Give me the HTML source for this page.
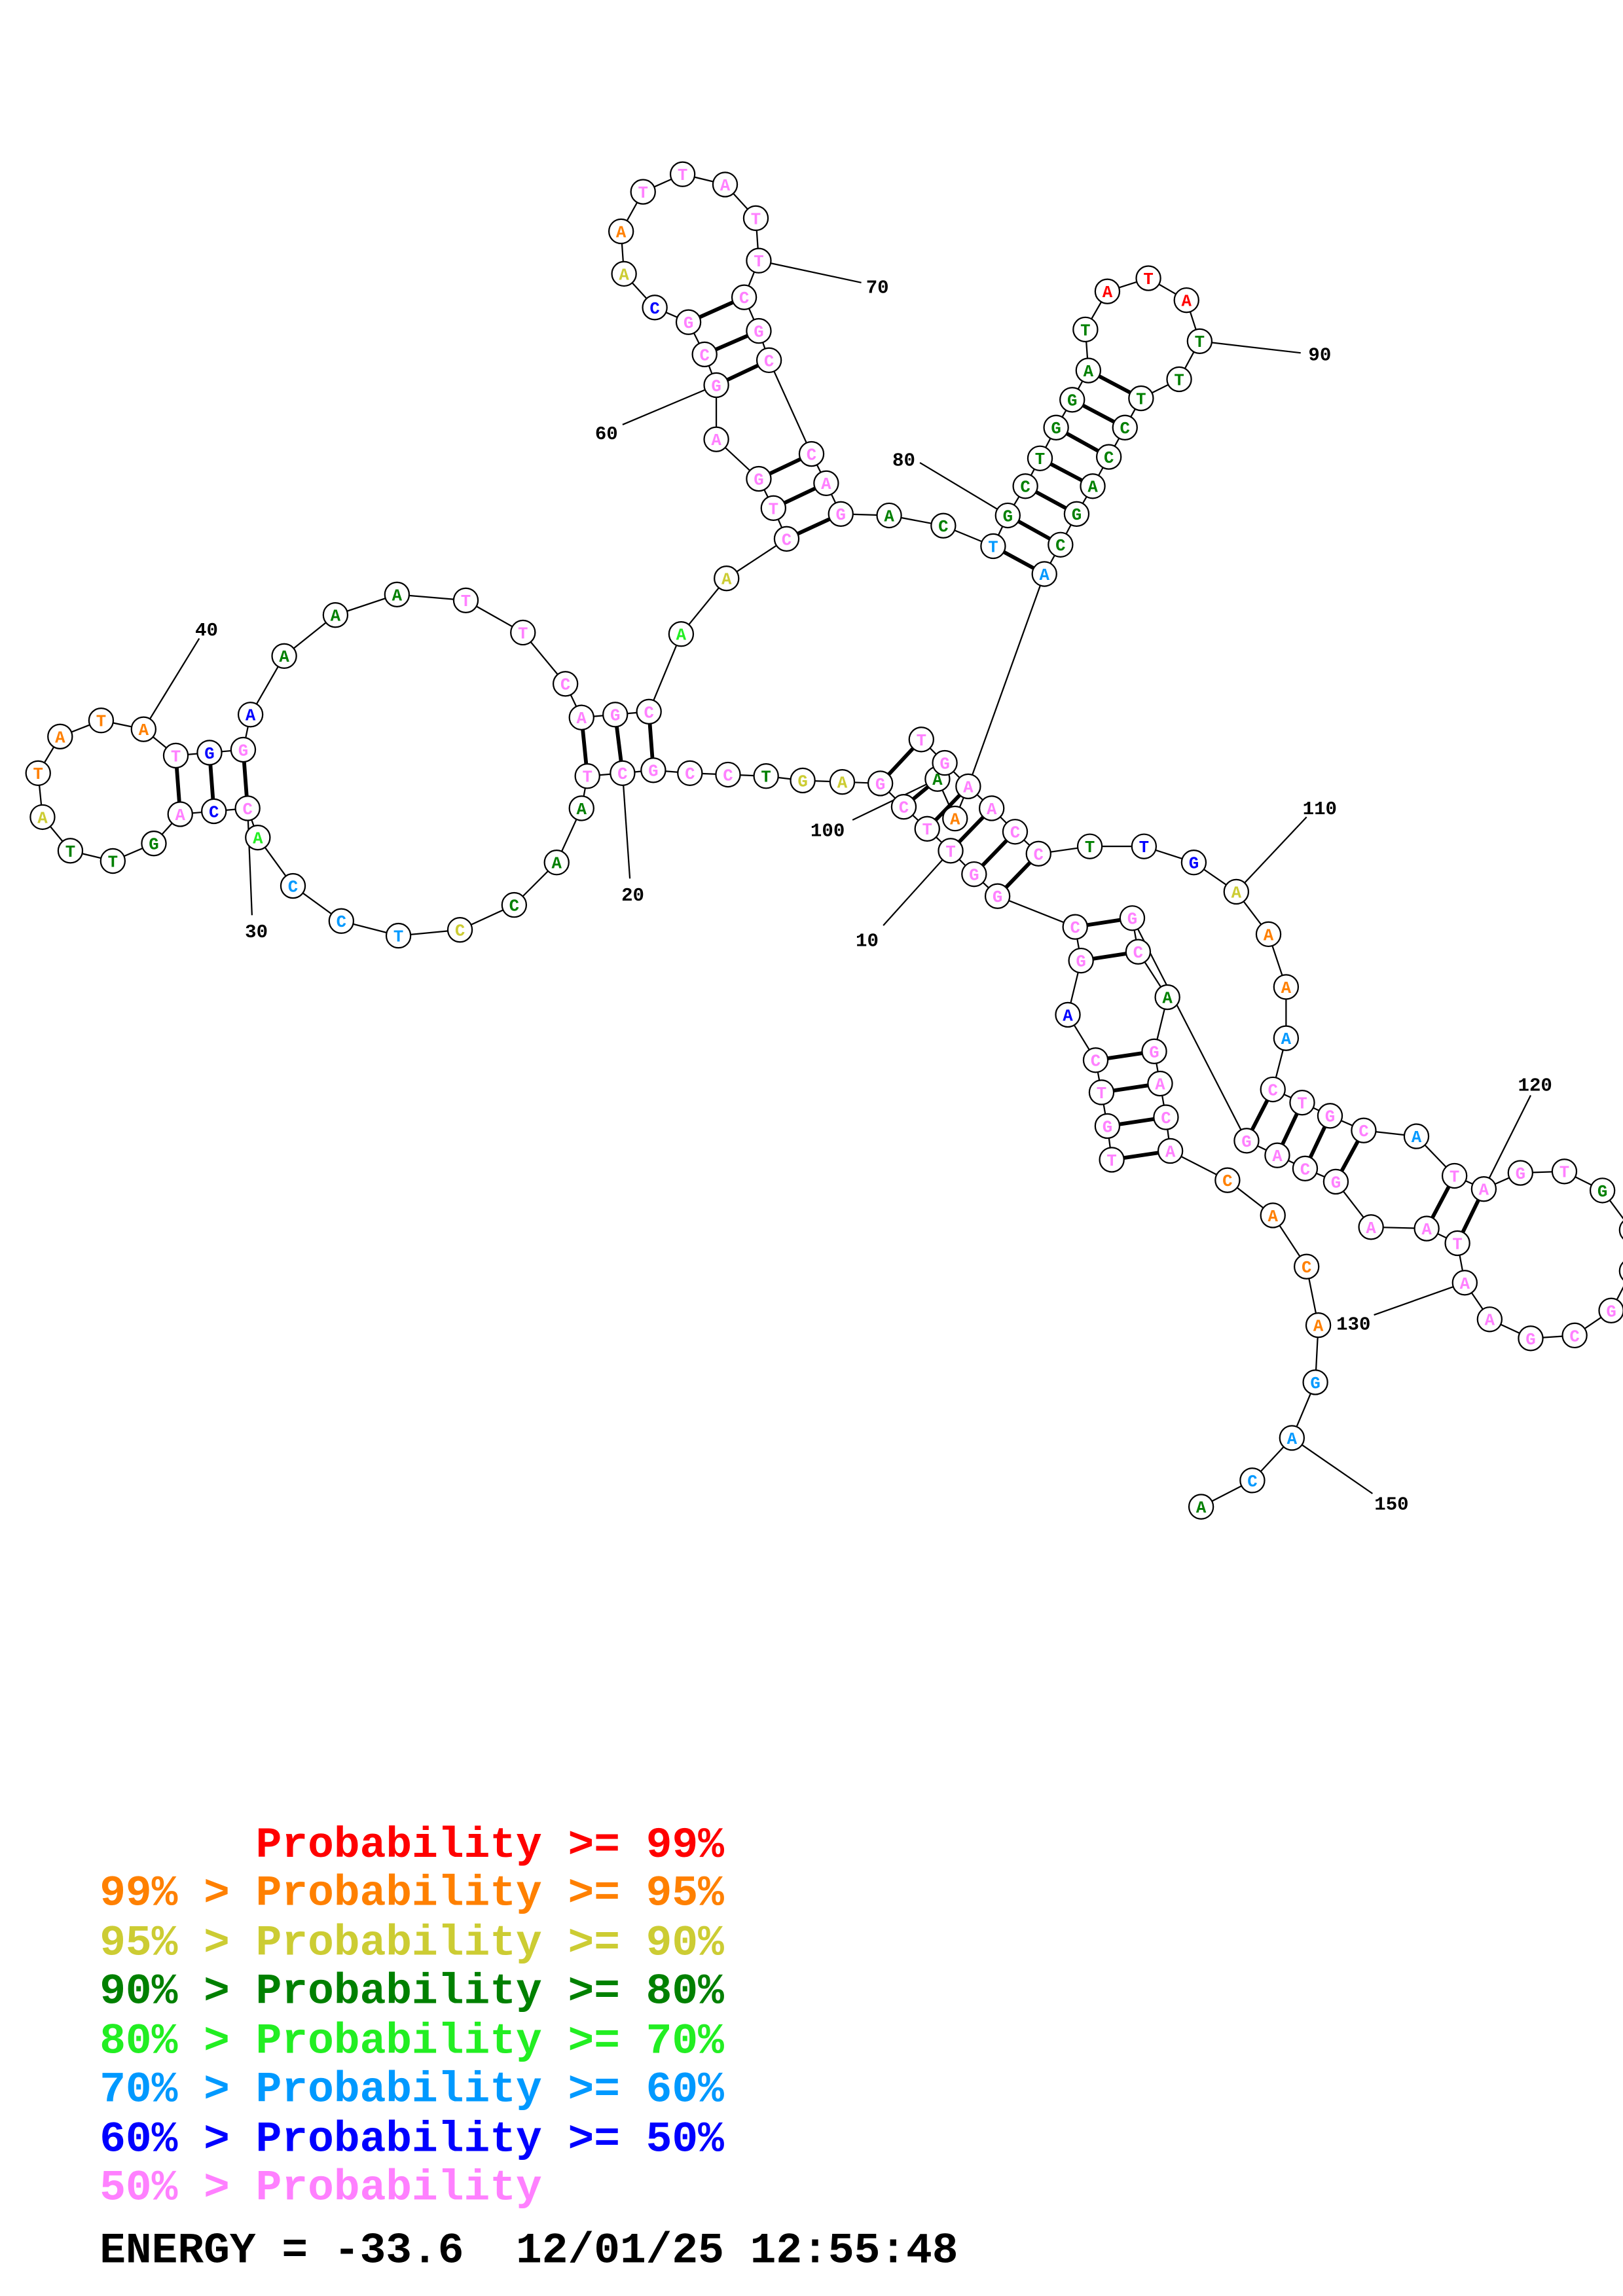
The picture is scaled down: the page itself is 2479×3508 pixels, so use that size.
<!DOCTYPE html>
<html><head><meta charset="utf-8"><style>
html,body{margin:0;padding:0;background:#fff}
svg{display:block}
.n circle{fill:#fff;stroke:#000;stroke-width:1}
.n text{font-family:"Liberation Mono",monospace;font-weight:bold;font-size:11.5px;text-anchor:middle}
.p{fill:#ff80ff}.o{fill:#ff8000}.y{fill:#cccc33}.g{fill:#008000}.G{fill:#22ee22}.b{fill:#0099ff}.B{fill:#0000ff}.r{fill:#ff0000}
.lab{font-family:"Liberation Mono",monospace;font-weight:bold;font-size:13px;text-anchor:middle;fill:#000}
.leg{font-family:"Liberation Mono",monospace;font-weight:bold;font-size:29.6px}
</style></head><body>
<svg width="2479" height="3508" viewBox="0 0 1108 1568" xmlns="http://www.w3.org/2000/svg">
<rect width="1108" height="1568" fill="#fff"/>
<g fill="none" stroke="#000" stroke-width="1">
<polyline points="759,792 756,769 752,746 748,724 729,693 738,656 734,633 681,612 665,597 649,581 633,566 617,551 601,535 575,534 548,533 523,530 497,529 471,528 446,526 425,528 401,530 397,552 380,589 351,618 314,635 272,639 233,629 200,605 176,572 169,552 146,554 123,556 105,576 77,588 48,581 29,558 26,528 41,503 69,492 98,498 120,516 143,514 166,512 171,488 194,448 229,420 271,406 318,410 357,432 386,467 397,490 420,488 443,486 465,433 496,395 537,368 528,347 518,327 489,300 489,263 481,242 470,220 447,210 426,187 424,158 439,131 466,119 495,126 516,149 518,178 508,203 518,226 525,246 554,310 564,330 574,351 607,352 644,359 678,373 688,352 700,332 710,313 721,292 732,273 743,253 741,225 756,199 784,190 810,205 819,233 805,259 779,272 768,292 757,312 746,332 735,351 724,372 713,392 661,537 652,559 640,532 645,521 629,505"/>
<polyline points="645,521 661,537 677,552 693,568 709,583 744,578 781,578 815,589 844,609 866,638 878,674 878,709 869,744 889,753 908,762 931,772 967,776 993,803 1013,812 1038,801 1068,800 1094,813 1114,840 1114,868 1100,895 1075,912 1045,914 1017,901 1000,876 995,849 974,839 936,838 912,807 891,798 872,789 851,779 773,627 777,650 797,681 788,718 792,740 796,763 799,786 838,806 869,830 892,865 900,905 898,944 882,982 855,1011 820,1029"/>
<line x1="603" y1="632" x2="649" y2="581"/>
<line x1="430" y1="600" x2="425" y2="528"/>
<line x1="172" y1="625" x2="169" y2="552"/>
<line x1="136" y1="436" x2="98" y2="498"/>
<line x1="425" y1="290" x2="489" y2="263"/>
<line x1="518" y1="178" x2="588" y2="193"/>
<line x1="628" y1="316" x2="688" y2="352"/>
<line x1="819" y1="233" x2="888" y2="241"/>
<line x1="582" y1="560" x2="640" y2="532"/>
<line x1="844" y1="609" x2="892" y2="558"/>
<line x1="1045" y1="748" x2="1013" y2="812"/>
<line x1="938" y1="898" x2="1000" y2="876"/>
<line x1="882" y1="982" x2="937" y2="1020"/>
</g>
<g stroke="#000" stroke-width="2.6">
<line x1="120" y1="516" x2="123" y2="556"/><line x1="143" y1="514" x2="146" y2="554"/><line x1="166" y1="512" x2="169" y2="552"/>
<line x1="397" y1="490" x2="401" y2="530"/><line x1="420" y1="488" x2="425" y2="528"/><line x1="443" y1="486" x2="446" y2="526"/>
<line x1="537" y1="368" x2="574" y2="351"/><line x1="528" y1="347" x2="564" y2="330"/><line x1="518" y1="327" x2="554" y2="310"/>
<line x1="489" y1="263" x2="525" y2="246"/><line x1="481" y1="242" x2="518" y2="226"/><line x1="470" y1="220" x2="508" y2="203"/>
<line x1="678" y1="373" x2="713" y2="392"/><line x1="688" y1="352" x2="724" y2="372"/><line x1="700" y1="332" x2="735" y2="351"/><line x1="710" y1="313" x2="746" y2="332"/><line x1="721" y1="292" x2="757" y2="312"/><line x1="732" y1="273" x2="768" y2="292"/><line x1="743" y1="253" x2="779" y2="272"/>
<line x1="601" y1="535" x2="629" y2="505"/><line x1="617" y1="551" x2="640" y2="532"/><line x1="633" y1="566" x2="661" y2="537"/><line x1="649" y1="581" x2="677" y2="552"/><line x1="665" y1="597" x2="693" y2="568"/><line x1="681" y1="612" x2="709" y2="583"/>
<line x1="734" y1="633" x2="773" y2="627"/><line x1="738" y1="656" x2="777" y2="650"/><line x1="748" y1="724" x2="788" y2="718"/><line x1="752" y1="746" x2="792" y2="740"/><line x1="756" y1="769" x2="796" y2="763"/><line x1="759" y1="792" x2="799" y2="786"/>
<line x1="869" y1="744" x2="851" y2="779"/><line x1="889" y1="753" x2="872" y2="789"/><line x1="908" y1="762" x2="891" y2="798"/><line x1="931" y1="772" x2="912" y2="807"/>
<line x1="993" y1="803" x2="974" y2="839"/><line x1="1013" y1="812" x2="995" y2="849"/>
</g>
<g class="n">
<circle cx="759" cy="792" r="8.3"/><text x="759" y="796" class="p">T</text>
<circle cx="756" cy="769" r="8.3"/><text x="756" y="773" class="p">G</text>
<circle cx="752" cy="746" r="8.3"/><text x="752" y="750" class="p">T</text>
<circle cx="748" cy="724" r="8.3"/><text x="748" y="728" class="p">C</text>
<circle cx="729" cy="693" r="8.3"/><text x="729" y="697" class="B">A</text>
<circle cx="738" cy="656" r="8.3"/><text x="738" y="660" class="p">G</text>
<circle cx="734" cy="633" r="8.3"/><text x="734" y="637" class="p">C</text>
<circle cx="681" cy="612" r="8.3"/><text x="681" y="616" class="p">G</text>
<circle cx="665" cy="597" r="8.3"/><text x="665" y="601" class="p">G</text>
<circle cx="649" cy="581" r="8.3"/><text x="649" y="585" class="p">T</text>
<circle cx="633" cy="566" r="8.3"/><text x="633" y="570" class="p">T</text>
<circle cx="617" cy="551" r="8.3"/><text x="617" y="555" class="p">C</text>
<circle cx="601" cy="535" r="8.3"/><text x="601" y="539" class="p">G</text>
<circle cx="575" cy="534" r="8.3"/><text x="575" y="538" class="y">A</text>
<circle cx="548" cy="533" r="8.3"/><text x="548" y="537" class="y">G</text>
<circle cx="523" cy="530" r="8.3"/><text x="523" y="534" class="g">T</text>
<circle cx="497" cy="529" r="8.3"/><text x="497" y="533" class="p">C</text>
<circle cx="471" cy="528" r="8.3"/><text x="471" y="532" class="p">C</text>
<circle cx="446" cy="526" r="8.3"/><text x="446" y="530" class="p">G</text>
<circle cx="425" cy="528" r="8.3"/><text x="425" y="532" class="p">C</text>
<circle cx="401" cy="530" r="8.3"/><text x="401" y="534" class="p">T</text>
<circle cx="397" cy="552" r="8.3"/><text x="397" y="556" class="g">A</text>
<circle cx="380" cy="589" r="8.3"/><text x="380" y="593" class="g">A</text>
<circle cx="351" cy="618" r="8.3"/><text x="351" y="622" class="g">C</text>
<circle cx="314" cy="635" r="8.3"/><text x="314" y="639" class="y">C</text>
<circle cx="272" cy="639" r="8.3"/><text x="272" y="643" class="b">T</text>
<circle cx="233" cy="629" r="8.3"/><text x="233" y="633" class="b">C</text>
<circle cx="200" cy="605" r="8.3"/><text x="200" y="609" class="b">C</text>
<circle cx="176" cy="572" r="8.3"/><text x="176" y="576" class="G">A</text>
<circle cx="169" cy="552" r="8.3"/><text x="169" y="556" class="p">C</text>
<circle cx="146" cy="554" r="8.3"/><text x="146" y="558" class="B">C</text>
<circle cx="123" cy="556" r="8.3"/><text x="123" y="560" class="p">A</text>
<circle cx="105" cy="576" r="8.3"/><text x="105" y="580" class="g">G</text>
<circle cx="77" cy="588" r="8.3"/><text x="77" y="592" class="g">T</text>
<circle cx="48" cy="581" r="8.3"/><text x="48" y="585" class="g">T</text>
<circle cx="29" cy="558" r="8.3"/><text x="29" y="562" class="y">A</text>
<circle cx="26" cy="528" r="8.3"/><text x="26" y="532" class="o">T</text>
<circle cx="41" cy="503" r="8.3"/><text x="41" y="507" class="o">A</text>
<circle cx="69" cy="492" r="8.3"/><text x="69" y="496" class="o">T</text>
<circle cx="98" cy="498" r="8.3"/><text x="98" y="502" class="o">A</text>
<circle cx="120" cy="516" r="8.3"/><text x="120" y="520" class="p">T</text>
<circle cx="143" cy="514" r="8.3"/><text x="143" y="518" class="B">G</text>
<circle cx="166" cy="512" r="8.3"/><text x="166" y="516" class="p">G</text>
<circle cx="171" cy="488" r="8.3"/><text x="171" y="492" class="B">A</text>
<circle cx="194" cy="448" r="8.3"/><text x="194" y="452" class="g">A</text>
<circle cx="229" cy="420" r="8.3"/><text x="229" y="424" class="g">A</text>
<circle cx="271" cy="406" r="8.3"/><text x="271" y="410" class="g">A</text>
<circle cx="318" cy="410" r="8.3"/><text x="318" y="414" class="p">T</text>
<circle cx="357" cy="432" r="8.3"/><text x="357" y="436" class="p">T</text>
<circle cx="386" cy="467" r="8.3"/><text x="386" y="471" class="p">C</text>
<circle cx="397" cy="490" r="8.3"/><text x="397" y="494" class="p">A</text>
<circle cx="420" cy="488" r="8.3"/><text x="420" y="492" class="p">G</text>
<circle cx="443" cy="486" r="8.3"/><text x="443" y="490" class="p">C</text>
<circle cx="465" cy="433" r="8.3"/><text x="465" y="437" class="G">A</text>
<circle cx="496" cy="395" r="8.3"/><text x="496" y="399" class="y">A</text>
<circle cx="537" cy="368" r="8.3"/><text x="537" y="372" class="p">C</text>
<circle cx="528" cy="347" r="8.3"/><text x="528" y="351" class="p">T</text>
<circle cx="518" cy="327" r="8.3"/><text x="518" y="331" class="p">G</text>
<circle cx="489" cy="300" r="8.3"/><text x="489" y="304" class="p">A</text>
<circle cx="489" cy="263" r="8.3"/><text x="489" y="267" class="p">G</text>
<circle cx="481" cy="242" r="8.3"/><text x="481" y="246" class="p">C</text>
<circle cx="470" cy="220" r="8.3"/><text x="470" y="224" class="p">G</text>
<circle cx="447" cy="210" r="8.3"/><text x="447" y="214" class="B">C</text>
<circle cx="426" cy="187" r="8.3"/><text x="426" y="191" class="y">A</text>
<circle cx="424" cy="158" r="8.3"/><text x="424" y="162" class="o">A</text>
<circle cx="439" cy="131" r="8.3"/><text x="439" y="135" class="p">T</text>
<circle cx="466" cy="119" r="8.3"/><text x="466" y="123" class="p">T</text>
<circle cx="495" cy="126" r="8.3"/><text x="495" y="130" class="p">A</text>
<circle cx="516" cy="149" r="8.3"/><text x="516" y="153" class="p">T</text>
<circle cx="518" cy="178" r="8.3"/><text x="518" y="182" class="p">T</text>
<circle cx="508" cy="203" r="8.3"/><text x="508" y="207" class="p">C</text>
<circle cx="518" cy="226" r="8.3"/><text x="518" y="230" class="p">G</text>
<circle cx="525" cy="246" r="8.3"/><text x="525" y="250" class="p">C</text>
<circle cx="554" cy="310" r="8.3"/><text x="554" y="314" class="p">C</text>
<circle cx="564" cy="330" r="8.3"/><text x="564" y="334" class="p">A</text>
<circle cx="574" cy="351" r="8.3"/><text x="574" y="355" class="p">G</text>
<circle cx="607" cy="352" r="8.3"/><text x="607" y="356" class="g">A</text>
<circle cx="644" cy="359" r="8.3"/><text x="644" y="363" class="g">C</text>
<circle cx="678" cy="373" r="8.3"/><text x="678" y="377" class="b">T</text>
<circle cx="688" cy="352" r="8.3"/><text x="688" y="356" class="g">G</text>
<circle cx="700" cy="332" r="8.3"/><text x="700" y="336" class="g">C</text>
<circle cx="710" cy="313" r="8.3"/><text x="710" y="317" class="g">T</text>
<circle cx="721" cy="292" r="8.3"/><text x="721" y="296" class="g">G</text>
<circle cx="732" cy="273" r="8.3"/><text x="732" y="277" class="g">G</text>
<circle cx="743" cy="253" r="8.3"/><text x="743" y="257" class="g">A</text>
<circle cx="741" cy="225" r="8.3"/><text x="741" y="229" class="g">T</text>
<circle cx="756" cy="199" r="8.3"/><text x="756" y="203" class="r">A</text>
<circle cx="784" cy="190" r="8.3"/><text x="784" y="194" class="r">T</text>
<circle cx="810" cy="205" r="8.3"/><text x="810" y="209" class="r">A</text>
<circle cx="819" cy="233" r="8.3"/><text x="819" y="237" class="g">T</text>
<circle cx="805" cy="259" r="8.3"/><text x="805" y="263" class="g">T</text>
<circle cx="779" cy="272" r="8.3"/><text x="779" y="276" class="g">T</text>
<circle cx="768" cy="292" r="8.3"/><text x="768" y="296" class="g">C</text>
<circle cx="757" cy="312" r="8.3"/><text x="757" y="316" class="g">C</text>
<circle cx="746" cy="332" r="8.3"/><text x="746" y="336" class="g">A</text>
<circle cx="735" cy="351" r="8.3"/><text x="735" y="355" class="g">G</text>
<circle cx="724" cy="372" r="8.3"/><text x="724" y="376" class="g">C</text>
<circle cx="713" cy="392" r="8.3"/><text x="713" y="396" class="b">A</text>
<circle cx="640" cy="532" r="8.3"/><text x="640" y="536" class="g">A</text>
<circle cx="629" cy="505" r="8.3"/><text x="629" y="509" class="p">T</text>
<circle cx="645" cy="521" r="8.3"/><text x="645" y="525" class="p">G</text>
<circle cx="652" cy="559" r="8.3"/><text x="652" y="563" class="o">A</text>
<circle cx="661" cy="537" r="8.3"/><text x="661" y="541" class="p">A</text>
<circle cx="677" cy="552" r="8.3"/><text x="677" y="556" class="p">A</text>
<circle cx="693" cy="568" r="8.3"/><text x="693" y="572" class="p">C</text>
<circle cx="709" cy="583" r="8.3"/><text x="709" y="587" class="p">C</text>
<circle cx="744" cy="578" r="8.3"/><text x="744" y="582" class="g">T</text>
<circle cx="781" cy="578" r="8.3"/><text x="781" y="582" class="B">T</text>
<circle cx="815" cy="589" r="8.3"/><text x="815" y="593" class="B">G</text>
<circle cx="844" cy="609" r="8.3"/><text x="844" y="613" class="y">A</text>
<circle cx="866" cy="638" r="8.3"/><text x="866" y="642" class="o">A</text>
<circle cx="878" cy="674" r="8.3"/><text x="878" y="678" class="o">A</text>
<circle cx="878" cy="709" r="8.3"/><text x="878" y="713" class="b">A</text>
<circle cx="869" cy="744" r="8.3"/><text x="869" y="748" class="p">C</text>
<circle cx="889" cy="753" r="8.3"/><text x="889" y="757" class="p">T</text>
<circle cx="908" cy="762" r="8.3"/><text x="908" y="766" class="p">G</text>
<circle cx="931" cy="772" r="8.3"/><text x="931" y="776" class="p">C</text>
<circle cx="967" cy="776" r="8.3"/><text x="967" y="780" class="b">A</text>
<circle cx="993" cy="803" r="8.3"/><text x="993" y="807" class="p">T</text>
<circle cx="1013" cy="812" r="8.3"/><text x="1013" y="816" class="p">A</text>
<circle cx="1038" cy="801" r="8.3"/><text x="1038" y="805" class="p">G</text>
<circle cx="1068" cy="800" r="8.3"/><text x="1068" y="804" class="p">T</text>
<circle cx="1094" cy="813" r="8.3"/><text x="1094" y="817" class="g">G</text>
<circle cx="1114" cy="840" r="8.3"/><text x="1114" y="844" class="g">A</text>
<circle cx="1114" cy="868" r="8.3"/><text x="1114" y="872" class="r">A</text>
<circle cx="1100" cy="895" r="8.3"/><text x="1100" y="899" class="p">G</text>
<circle cx="1075" cy="912" r="8.3"/><text x="1075" y="916" class="p">C</text>
<circle cx="1045" cy="914" r="8.3"/><text x="1045" y="918" class="p">G</text>
<circle cx="1017" cy="901" r="8.3"/><text x="1017" y="905" class="p">A</text>
<circle cx="1000" cy="876" r="8.3"/><text x="1000" y="880" class="p">A</text>
<circle cx="995" cy="849" r="8.3"/><text x="995" y="853" class="p">T</text>
<circle cx="974" cy="839" r="8.3"/><text x="974" y="843" class="p">A</text>
<circle cx="936" cy="838" r="8.3"/><text x="936" y="842" class="p">A</text>
<circle cx="912" cy="807" r="8.3"/><text x="912" y="811" class="p">G</text>
<circle cx="891" cy="798" r="8.3"/><text x="891" y="802" class="p">C</text>
<circle cx="872" cy="789" r="8.3"/><text x="872" y="793" class="p">A</text>
<circle cx="851" cy="779" r="8.3"/><text x="851" y="783" class="p">G</text>
<circle cx="773" cy="627" r="8.3"/><text x="773" y="631" class="p">G</text>
<circle cx="777" cy="650" r="8.3"/><text x="777" y="654" class="p">C</text>
<circle cx="797" cy="681" r="8.3"/><text x="797" y="685" class="g">A</text>
<circle cx="788" cy="718" r="8.3"/><text x="788" y="722" class="p">G</text>
<circle cx="792" cy="740" r="8.3"/><text x="792" y="744" class="p">A</text>
<circle cx="796" cy="763" r="8.3"/><text x="796" y="767" class="p">C</text>
<circle cx="799" cy="786" r="8.3"/><text x="799" y="790" class="p">A</text>
<circle cx="838" cy="806" r="8.3"/><text x="838" y="810" class="o">C</text>
<circle cx="869" cy="830" r="8.3"/><text x="869" y="834" class="o">A</text>
<circle cx="892" cy="865" r="8.3"/><text x="892" y="869" class="o">C</text>
<circle cx="900" cy="905" r="8.3"/><text x="900" y="909" class="o">A</text>
<circle cx="898" cy="944" r="8.3"/><text x="898" y="948" class="b">G</text>
<circle cx="882" cy="982" r="8.3"/><text x="882" y="986" class="b">A</text>
<circle cx="855" cy="1011" r="8.3"/><text x="855" y="1015" class="b">C</text>
<circle cx="820" cy="1029" r="8.3"/><text x="820" y="1033" class="g">A</text>
</g>
<g class="lab">
<text x="592" y="646">10</text><text x="432" y="615">20</text><text x="175" y="640">30</text><text x="141" y="434">40</text>
<text x="414" y="300">60</text><text x="599" y="200">70</text><text x="617" y="318">80</text><text x="901" y="246">90</text>
<text x="565" y="571">100</text><text x="901" y="556">110</text><text x="1048" y="745">120</text><text x="924" y="908">130</text><text x="950" y="1031">150</text>
</g>
<g class="leg">
<text x="174.6" y="1268" fill="#ff0000">Probability &gt;= 99%</text>
<text x="68" y="1301" fill="#ff8000">99% &gt; Probability &gt;= 95%</text>
<text x="68" y="1335" fill="#cccc33">95% &gt; Probability &gt;= 90%</text>
<text x="68" y="1368" fill="#008000">90% &gt; Probability &gt;= 80%</text>
<text x="68" y="1402" fill="#22ee22">80% &gt; Probability &gt;= 70%</text>
<text x="68" y="1435" fill="#0099ff">70% &gt; Probability &gt;= 60%</text>
<text x="68" y="1469" fill="#0000ff">60% &gt; Probability &gt;= 50%</text>
<text x="68" y="1502" fill="#ff80ff">50% &gt; Probability</text>
<text x="68" y="1545" fill="#000" xml:space="preserve">ENERGY = -33.6  12/01/25 12:55:48</text>
</g>
</svg>
</body></html>
